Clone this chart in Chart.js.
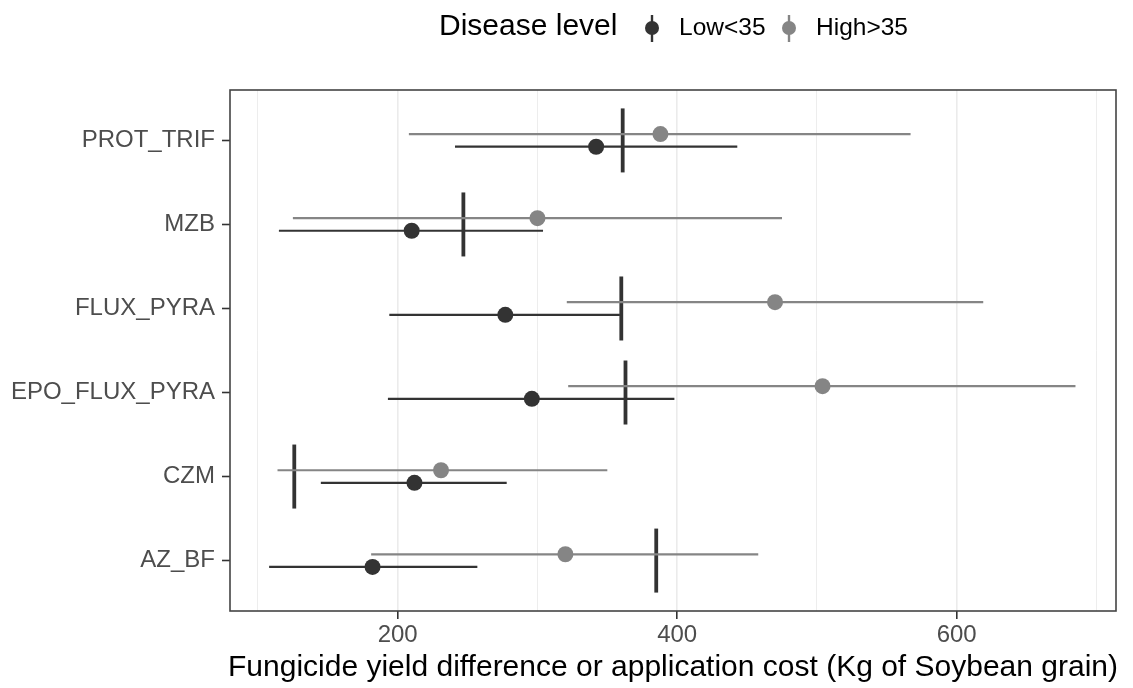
<!DOCTYPE html>
<html lang="en">
<head>
  <meta charset="UTF-8" />
  <title>Fungicide yield difference or application cost</title>
  <script src="https://cdn.jsdelivr.net/npm/chart.js"></script>
  <style>
    body {
      margin: 0;
      background: #fff;
    }
  </style>
</head>
<body>
  <canvas id="chart" width="1133" height="688"></canvas>

  <script>
    // fungicide programmes, bottom to top on the y axis
    const fungicides = ['AZ_BF', 'CZM', 'EPO_FLUX_PYRA', 'FLUX_PYRA', 'MZB', 'PROT_TRIF'];

    // disease level Low<35
    const lowMean  = [182, 212, 296, 277, 210, 342];
    const lowLower = [108, 145, 193, 194, 115, 241];
    const lowUpper = [257, 278, 398, 359, 304, 443];

    // disease level High>35
    const highMean  = [320, 231, 504, 470, 300, 388];
    const highLower = [181, 114, 322, 321, 125, 208];
    const highUpper = [458, 350, 685, 619, 475, 567];

    // application cost (kg of soybean grain)
    const appCost = [385, 126, 363, 360, 247, 361];

    const xTicks = [100, 200, 300, 400, 500, 600, 700];
    const xLabelled = [200, 400, 600];
    const xTitle = 'Fungicide yield difference or application cost (Kg of Soybean grain)';

    const dark = '#333333';
    const grey = '#858585';
    const dodge = 0.075;
    const font = "'Liberation Sans', Arial, sans-serif";

    // horizontal ranges, drawn after the cost marks and under the points
    const errorBars = {
      id: 'errorBars',
      afterDatasetDraw(chart, args) {
        if (args.index !== 2) return;
        const x = chart.scales.x, y = chart.scales.y, ctx = chart.ctx;
        ctx.save();
        ctx.lineWidth = 2.2;
        [[lowLower, lowUpper, -dodge, dark], [highLower, highUpper, dodge, grey]].forEach(([lo, hi, off, col]) => {
          ctx.strokeStyle = col;
          fungicides.forEach((f, i) => {
            const py = y.getPixelForValue(i + 1 + off);
            ctx.beginPath();
            ctx.moveTo(x.getPixelForValue(lo[i]), py);
            ctx.lineTo(x.getPixelForValue(hi[i]), py);
            ctx.stroke();
          });
        });
        ctx.restore();
      }
    };

    // panel border, x axis title and legend on top
    const frameAndLegend = {
      id: 'frameAndLegend',
      afterDraw(chart) {
        const ctx = chart.ctx, a = chart.chartArea;
        ctx.save();
        ctx.strokeStyle = '#444';
        ctx.lineWidth = 1.6;
        ctx.strokeRect(a.left, a.top, a.right - a.left, a.bottom - a.top);

        ctx.fillStyle = '#000';
        ctx.textBaseline = 'middle';
        ctx.textAlign = 'center';
        ctx.font = '30px ' + font;
        ctx.fillText(xTitle, (a.left + a.right) / 2, 668);

        const cy = 27;
        ctx.textAlign = 'left';
        ctx.fillText('Disease level', 439, cy);

        const keys = [['Low<35', dark, 652, 679], ['High>35', grey, 789, 816]];
        ctx.font = '24.5px ' + font;
        keys.forEach(([label, col, kx, tx]) => {
          ctx.strokeStyle = col;
          ctx.lineWidth = 2.4;
          ctx.beginPath();
          ctx.moveTo(kx, cy - 12);
          ctx.lineTo(kx, cy + 15);
          ctx.stroke();
          ctx.fillStyle = col;
          ctx.beginPath();
          ctx.arc(kx, cy + 1, 7, 0, Math.PI * 2);
          ctx.fill();
          ctx.fillStyle = '#000';
          ctx.fillText(label, tx, cy + 1);
        });
        ctx.restore();
      }
    };

    new Chart(document.getElementById('chart').getContext('2d'), {
      type: 'scatter',
      data: {
        datasets: [
          {
            label: 'Low<35',
            data: fungicides.map((f, i) => ({ x: lowMean[i], y: i + 1 - dodge })),
            backgroundColor: dark,
            borderWidth: 0,
            pointRadius: 8
          },
          {
            label: 'High>35',
            data: fungicides.map((f, i) => ({ x: highMean[i], y: i + 1 + dodge })),
            backgroundColor: grey,
            borderWidth: 0,
            pointRadius: 8
          },
          {
            label: 'Application cost',
            data: fungicides.map((f, i) => ({ x: appCost[i], y: i + 1 })),
            pointStyle: 'line',
            rotation: 90,
            pointRadius: 32,
            borderColor: dark,
            borderWidth: 3.8
          }
        ]
      },
      options: {
        responsive: false,
        animation: false,
        // the tall cost marks would otherwise make Chart.js pad the plot
        layout: { autoPadding: false, padding: { top: 90, right: 17, left: 0, bottom: 0 } },
        plugins: {
          legend: { display: false },
          tooltip: { enabled: false }
        },
        scales: {
          x: {
            type: 'linear',
            min: 80,
            max: 714,
            afterBuildTicks: s => { s.ticks = xTicks.map(v => ({ value: v })); },
            afterFit: s => { s.height = 77; s.paddingLeft = 0; s.paddingRight = 0; },
            border: { display: false },
            grid: {
              color: '#ebebeb',
              lineWidth: c => xLabelled.includes(c.tick.value) ? 1.6 : 0.9,
              tickColor: c => xLabelled.includes(c.tick.value) ? '#333' : 'rgba(0,0,0,0)',
              tickLength: 8,
              tickWidth: 1.6
            },
            ticks: {
              color: '#4d4d4d',
              font: { family: font, size: 24 },
              padding: 2,
              maxRotation: 0,
              autoSkip: false,
              callback: v => xLabelled.includes(v) ? String(v) : ''
            }
          },
          y: {
            type: 'linear',
            min: 0.4,
            max: 6.6,
            afterBuildTicks: s => { s.ticks = fungicides.map((f, i) => ({ value: i + 1 })); },
            afterFit: s => { s.width = 230; s.paddingTop = 0; s.paddingBottom = 0; },
            border: { display: false },
            grid: {
              drawOnChartArea: false,
              tickColor: '#333',
              tickLength: 8,
              tickWidth: 1.6
            },
            ticks: {
              color: '#4d4d4d',
              font: { family: font, size: 24 },
              padding: 7,
              autoSkip: false,
              callback: v => fungicides[v - 1]
            }
          }
        }
      },
      plugins: [errorBars, frameAndLegend]
    });
  </script>
</body>
</html>
